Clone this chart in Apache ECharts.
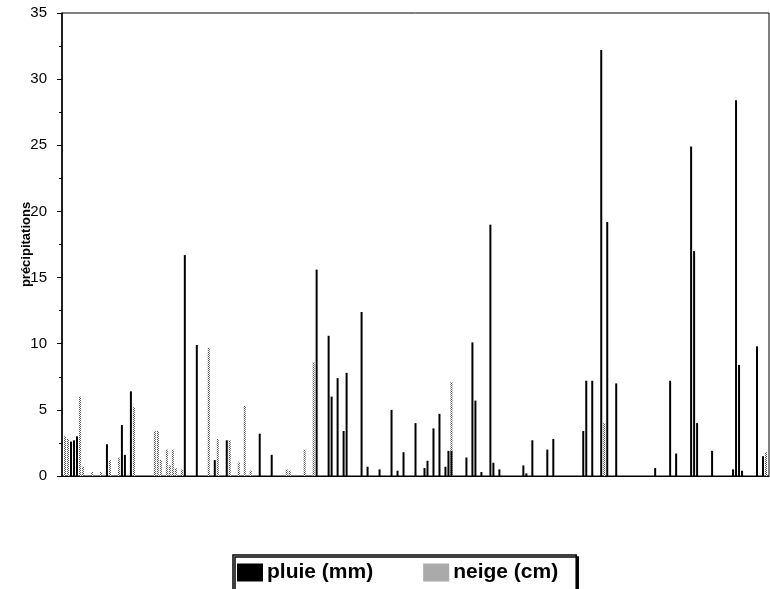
<!DOCTYPE html>
<html>
<head>
<meta charset="utf-8">
<script src="https://cdn.jsdelivr.net/npm/echarts@6/dist/echarts.min.js"></script>
<style>
html,body{margin:0;padding:0;background:#fff;}
#c{width:770px;height:589px;}
</style>
</head>
<body>
<div id="c"></div>
<script>
// day index within the season, precipitation amount
var pluieDays = [3,4,5,15,20,21,23,41,45,51,55,66,70,85,89,90,92,94,95,100,102,106,110,112,114,118,121,122,124,126,128,129,130,135,137,138,140,143,144,146,154,155,157,162,164,174,175,177,180,182,185,198,203,205,210,211,212,217,224,225,226,227,232,234];
var pluieVals = [2.6,2.7,3.0,2.4,3.85,1.6,6.4,16.7,9.9,1.2,2.7,3.2,1.6,15.6,10.6,6.0,7.4,3.4,7.8,12.4,0.7,0.5,5.0,0.4,1.8,4.0,0.6,1.15,3.6,4.7,0.7,1.9,1.9,1.4,10.1,5.7,0.3,19.0,1.0,0.5,0.8,0.2,2.7,2.0,2.8,3.4,7.2,7.2,32.2,19.2,7.0,0.6,7.2,1.7,24.9,17.0,4.0,1.9,0.5,28.4,8.4,0.4,9.8,1.5];
var neigeDays = [1,2,6,7,10,13,16,19,24,31,32,33,35,36,37,38,40,49,52,56,59,61,63,75,76,81,84,130,181,235];
var neigeVals = [3.0,2.8,6.0,0.7,0.3,0.3,1.2,1.4,5.2,3.4,3.4,1.2,2.0,0.8,2.0,0.6,0.5,9.7,2.8,2.7,1.0,5.3,0.4,0.5,0.4,2.0,8.6,7.1,4.0,1.8];
var yTicks = [0,5,10,15,20,25,30,35];
var seriesNames = ['pluie (mm)','neige (cm)'];
var yName = 'précipitations';

function pairs(d, v){ return d.map(function(x,i){ return [x, v[i]]; }); }

// dotted grey pattern for snow
var pc = document.createElement('canvas');
pc.width = 2; pc.height = 2;
var pctx = pc.getContext('2d');
pctx.fillStyle = '#ffffff'; pctx.fillRect(0,0,2,2);
pctx.fillStyle = '#555555'; pctx.fillRect(0,0,1,1); pctx.fillRect(1,1,1,1);

var chart = echarts.init(document.getElementById('c'), null, {renderer:'canvas'});
chart.setOption({
  animation:false,
  backgroundColor:'#fff',
  textStyle:{fontFamily:'"Liberation Sans", Arial, sans-serif'},
  grid:{left:62, right:1, top:13, bottom:113, show:true, borderColor:'#000', borderWidth:1},
  legend:{
    data:seriesNames, left:233, top:555, icon:'rect',
    itemWidth:26, itemHeight:18, itemGap:50,
    padding:[7,18,7,4],
    borderColor:'#000', borderWidth:1.5, backgroundColor:'#fff',
    shadowColor:'#000', shadowOffsetX:2, shadowOffsetY:2, shadowBlur:0,
    textStyle:{fontSize:21, fontWeight:'bold', color:'#000', padding:[0,0,0,-1]}
  },
  xAxis:{
    type:'value', min:0, max:236,
    axisLine:{show:true, lineStyle:{color:'#000', width:1}},
    axisTick:{show:false}, axisLabel:{show:false}, splitLine:{show:false}
  },
  yAxis:{
    type:'value', min:yTicks[0], max:yTicks[yTicks.length-1], interval:5,
    name:yName, nameLocation:'middle', nameGap:29, nameRotate:90, nameMoveOverlap:false,
    nameTextStyle:{fontSize:13, fontWeight:'bold', color:'#000'},
    axisLine:{show:true, lineStyle:{color:'#000', width:1.5}},
    axisTick:{show:true, inside:false, length:5, lineStyle:{color:'#000'}},
    minorTick:{show:true, splitNumber:2, length:3, lineStyle:{color:'#000'}},
    axisLabel:{fontSize:15, color:'#000', margin:15},
    splitLine:{show:false}
  },
  series:[
    {name:seriesNames[0], type:'bar', data:pairs(pluieDays,pluieVals), barWidth:2, barGap:'-100%',
     itemStyle:{color:'#000'}, z:3},
    {name:seriesNames[1], type:'bar', data:pairs(neigeDays,neigeVals), barWidth:2, barGap:'-100%',
     itemStyle:{color:{image:pc, repeat:'repeat'}}, z:2}
  ]
});
</script>
</body>
</html>
